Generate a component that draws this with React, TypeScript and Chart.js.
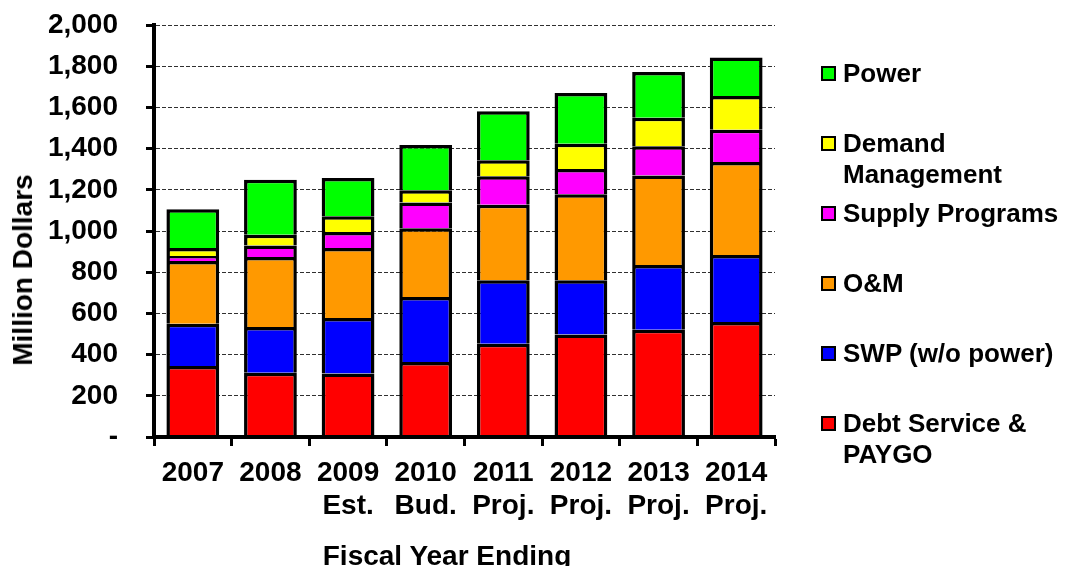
import { useEffect, useRef } from "react";
import { Chart, registerables } from "chart.js";

Chart.register(...registerables);

// Fiscal years on the category axis, with the status note printed below each year
const fiscalYears = ["2007", "2008", "2009", "2010", "2011", "2012", "2013", "2014"];
const yearNotes = ["", "", "Est.", "Bud.", "Proj.", "Proj.", "Proj.", "Proj."];

// Cost components, million dollars (stacked bottom to top)
const debtServicePaygo = [345, 312, 308, 364, 453, 497, 521, 558];
const swpWithoutPower = [205, 222, 270, 316, 308, 264, 314, 325];
const operationsMaintenance = [304, 340, 339, 333, 367, 417, 435, 452];
const supplyPrograms = [25, 56, 78, 125, 138, 123, 141, 157];
const demandManagement = [38, 52, 76, 60, 77, 123, 139, 163];
const powerCosts = [188, 267, 186, 219, 238, 246, 222, 187];

const seriesNames = [
  ["Debt Service &", "PAYGO"],
  ["SWP (w/o power)"],
  ["O&M"],
  ["Supply Programs"],
  ["Demand", "Management"],
  ["Power"],
];
const seriesColors = ["#ff0000", "#0000ff", "#ff9900", "#ff00ff", "#ffff00", "#00ff00"];
const seriesValues = [
  debtServicePaygo,
  swpWithoutPower,
  operationsMaintenance,
  supplyPrograms,
  demandManagement,
  powerCosts,
];

const yAxisMax = 2000;
const yAxisStep = 200;

const FONT = "'Liberation Sans', Arial, Helvetica, sans-serif";
const W = 1065;
const H = 566;

export default function App() {
  const canvasRef = useRef<HTMLCanvasElement | null>(null);

  useEffect(() => {
    const canvas = canvasRef.current;
    if (!canvas) return;

    const labels = fiscalYears.map((y, i) => (yearNotes[i] ? [y, yearNotes[i]] : [y]));

    const chart = new Chart(canvas, {
      type: "bar",
      data: {
        labels,
        datasets: seriesValues.map((values, i) => ({
          label: seriesNames[i].join(" "),
          data: values,
          backgroundColor: seriesColors[i],
          borderColor: "#000000",
          borderWidth: 3.5,
          barPercentage: 0.68,
          categoryPercentage: 1,
        })),
      },
      options: {
        responsive: false,
        animation: false,
        layout: { padding: { top: 25, right: 290, bottom: 0, left: 0 } },
        plugins: {
          legend: { display: false },
          tooltip: { enabled: false },
        },
        scales: {
          x: {
            stacked: true,
            afterFit: (scale: any) => {
              scale.height = 129;
            },
            grid: {
              display: true,
              drawOnChartArea: false,
              drawTicks: true,
              tickLength: 9,
              tickWidth: 3,
              tickColor: "#000000",
              color: "#000000",
            },
            border: { display: true, color: "#000000", width: 4, z: 1 },
            ticks: {
              color: "#000000",
              padding: 11,
              maxRotation: 0,
              autoSkip: false,
              font: { family: FONT, size: 28, weight: "bold", lineHeight: 1.18 },
            },
          },
          y: {
            stacked: true,
            min: 0,
            max: yAxisMax,
            afterFit: (scale: any) => {
              // fixed axis width; the label gap should not push the plot down
              scale.width = 154;
              scale.paddingTop = 0;
              scale.paddingBottom = 0;
            },
            grid: {
              color: "#303030",
              lineWidth: 1,
              drawTicks: true,
              tickLength: 8,
              tickWidth: 3,
              tickColor: "#000000",
            },
            border: { display: true, color: "#000000", width: 4, dash: [4, 2], z: 1 },
            ticks: {
              stepSize: yAxisStep,
              color: "#000000",
              padding: 28,
              font: { family: FONT, size: 28, weight: "bold" },
              callback: (v: any) => (Number(v) === 0 ? "-" : Number(v).toLocaleString("en-US")),
            },
          },
        },
      },
    });

    return () => chart.destroy();
  }, []);

  const legendOrder = seriesNames.map((_, i) => i).reverse();

  return (
    <div
      style={{
        position: "absolute",
        left: 0,
        top: 0,
        width: W,
        height: H,
        background: "#ffffff",
        overflow: "hidden",
        fontFamily: FONT,
        fontWeight: "bold",
        color: "#000000",
      }}
    >
      <canvas ref={canvasRef} width={W} height={H} style={{ display: "block", width: W, height: H }} />

      {/* Axis titles */}
      <div
        style={{
          position: "absolute",
          left: 23,
          top: 270,
          fontSize: 28,
          lineHeight: "28px",
          whiteSpace: "nowrap",
          transform: "translate(-50%, -50%) rotate(-90deg)",
        }}
      >
        Million Dollars
      </div>
      <div
        style={{
          position: "absolute",
          left: 447,
          top: 542,
          fontSize: 28,
          lineHeight: "28px",
          whiteSpace: "nowrap",
          transform: "translateX(-50%)",
        }}
      >
        Fiscal Year Ending
      </div>

      {/* Legend, top entry is the top of the stack */}
      {legendOrder.map((idx, k) => (
        <div
          key={idx}
          style={{
            position: "absolute",
            left: 821,
            top: 58 + k * 70,
            display: "flex",
            alignItems: "flex-start",
          }}
        >
          <div
            style={{
              width: 11,
              height: 11,
              marginTop: 8,
              border: "2px solid #000000",
              background: seriesColors[idx],
              flex: "none",
            }}
          />
          <div style={{ marginLeft: 7, fontSize: 26, lineHeight: "31px", whiteSpace: "nowrap" }}>
            {seriesNames[idx].map((line, j) => (
              <div key={j}>{line}</div>
            ))}
          </div>
        </div>
      ))}
    </div>
  );
}
